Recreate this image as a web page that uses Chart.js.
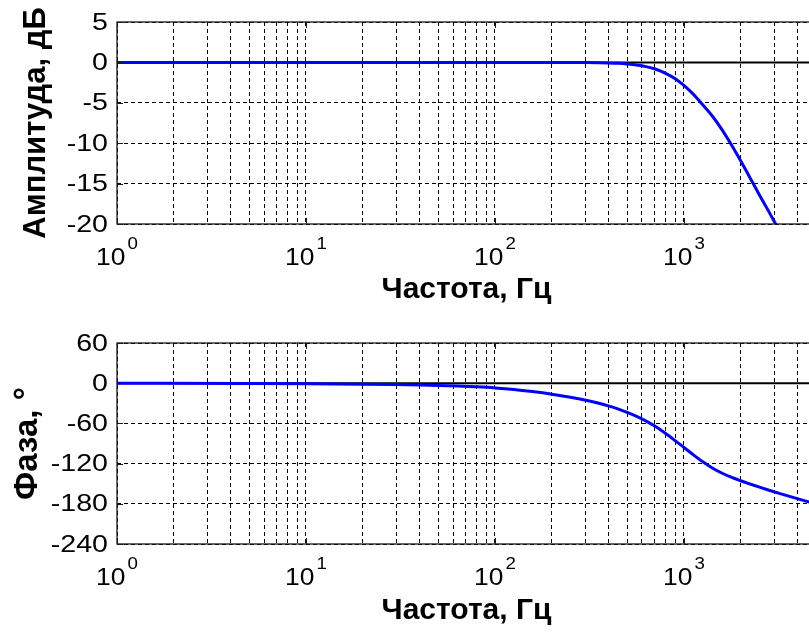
<!DOCTYPE html>
<html><head><meta charset="utf-8">
<script src="https://cdn.jsdelivr.net/npm/chart.js@4/dist/chart.umd.min.js"></script>
<style>
html,body{margin:0;padding:0;background:#fff;overflow:hidden;width:809px;height:632px;position:relative;}
#top{position:absolute;left:0;top:0;width:840px;height:320px;}
#bot{position:absolute;left:0;top:320px;width:840px;height:312px;}
</style></head><body>
<div id="top"><canvas id="c1"></canvas></div>
<div id="bot"><canvas id="c2"></canvas></div>
<script>
// ---- data ----
const ampFreq  = [1, 10, 100, 200, 300, 400, 450, 500, 560, 630, 710, 800, 900, 1000, 1120, 1250, 1410, 1580, 1780, 2000, 2240, 2510, 2820, 3160, 3550];
const ampDb    = [0, 0, 0, 0, -0.02, -0.07, -0.12, -0.2, -0.32, -0.52, -0.85, -1.35, -2.02, -2.85, -3.93, -5.17, -6.6, -8.22, -10.15, -12.2, -14.3, -16.4, -18.5, -20.6, -22.7];
const phaseFreq = [1, 5, 10, 20, 30, 40, 50, 63, 79, 100, 126, 158, 200, 224, 251, 282, 316, 355, 398, 447, 501, 562, 631, 708, 794, 891, 1000, 1122, 1259, 1413, 1585, 1778, 1995, 2239, 2512, 2818, 3162, 3548, 3981, 4467, 5012];
const phaseDeg  = [0, -0.5, -0.9, -1.5, -2.1, -2.7, -3.3, -4.2, -5.4, -7.0, -9.3, -12.5, -16.5, -18.6, -20.95, -23.6, -26.6, -30.0, -33.9, -38.4, -43.6, -49.6, -56.6, -64.7, -74.3, -84.9, -95.9, -106.9, -117.3, -126.5, -134.0, -140.3, -145.6, -150.5, -155.2, -159.7, -164.0, -168.2, -172.3, -176.3, -180.2];
const refFreq = [1, 5000];
const refVal  = [0, 0];
const ampTicks   = [-20, -15, -10, -5, 0, 5];
const phaseTicks = [-240, -180, -120, -60, 0, 60];
const decadeValues = [1, 10, 100, 1000];
const decadeBase = '10';
const decadeExps = ['0', '1', '2', '3'];
const gridMantissas = [1, 2, 3, 4, 5, 6, 7, 8, 9];
const xMin = 1, xMax = 5000;
const xTitle = 'Частота, Гц';
const ampTitle = 'Амплитуда, дБ';
const phaseTitle = 'Фаза, °';

const FONT = '"Liberation Sans", Arial, sans-serif';
const xGridValues = [];
decadeValues.forEach(d => gridMantissas.forEach(m => { const v = d * m; if (v >= xMin && v <= xMax) xGridValues.push(v); }));

const axisTextPlugin = {
  id: 'axisText',
  afterDraw(chart) {
    const {ctx, chartArea, scales: {x, y}} = chart;
    ctx.save();
    // box
    ctx.strokeStyle = '#1a1a1a';
    ctx.lineWidth = 1.3;
    ctx.strokeRect(chartArea.left, chartArea.top, chartArea.right - chartArea.left, chartArea.bottom - chartArea.top);
    // inner tick marks
    ctx.beginPath();
    decadeValues.forEach(v => {
      const px = Math.round(x.getPixelForValue(v)) + 0.5;
      ctx.moveTo(px, chartArea.bottom); ctx.lineTo(px, chartArea.bottom - 6);
      ctx.moveTo(px, chartArea.top); ctx.lineTo(px, chartArea.top + 6);
    });
    y.ticks.forEach(t => {
      const py = Math.round(y.getPixelForValue(t.value)) + 0.5;
      ctx.moveTo(chartArea.left, py); ctx.lineTo(chartArea.left + 6, py);
    });
    ctx.lineWidth = 1;
    ctx.stroke();
    ctx.fillStyle = '#000';
    // y tick labels (slightly wide face as in the picture)
    ctx.font = '24px ' + FONT;
    ctx.textAlign = 'right';
    ctx.textBaseline = 'middle';
    y.ticks.forEach(t => {
      const py = y.getPixelForValue(t.value);
      ctx.save();
      ctx.translate(chartArea.left - 9, py + 1);
      ctx.scale(1.19, 1);
      ctx.fillText(String(t.value), 0, 0);
      ctx.restore();
    });
    // x tick labels 10^n
    ctx.textBaseline = 'alphabetic';
    ctx.textAlign = 'left';
    decadeValues.forEach((v, i) => {
      const px = x.getPixelForValue(v);
      ctx.font = '24px ' + FONT;
      const wb = ctx.measureText(decadeBase).width * 1.1;
      ctx.font = '17px ' + FONT;
      const we = ctx.measureText(decadeExps[i]).width * 1.1;
      const gap = 2;
      const sx = px - (wb + gap + we) / 2;
      ctx.save();
      ctx.translate(sx, chartArea.bottom + 41);
      ctx.scale(1.1, 1);
      ctx.font = '24px ' + FONT;
      ctx.fillText(decadeBase, 0, 0);
      ctx.restore();
      ctx.save();
      ctx.translate(sx + wb + gap, chartArea.bottom + 25);
      ctx.scale(1.1, 1);
      ctx.font = '17px ' + FONT;
      ctx.fillText(decadeExps[i], 0, 0);
      ctx.restore();
    });
    ctx.restore();
  }
};

function makeChart(id, o) {
  const pts = (xs, ys) => xs.map((f, i) => ({x: f, y: ys[i]}));
  return new Chart(document.getElementById(id), {
    type: 'line',
    data: {
      datasets: [
        {data: pts(refFreq, refVal), borderColor: '#000', borderWidth: 2, pointRadius: 0, order: 2},
        {data: pts(o.freq, o.vals), borderColor: '#0000ff', borderWidth: 3, pointRadius: 0, cubicInterpolationMode: 'monotone', order: 1}
      ]
    },
    plugins: [axisTextPlugin],
    options: {
      responsive: true, maintainAspectRatio: false, animation: false, devicePixelRatio: 1,
      layout: {padding: {top: o.padTop, right: 24, left: 0, bottom: 0}},
      plugins: {legend: {display: false}, tooltip: {enabled: false}},
      scales: {
        x: {
          type: 'logarithmic', min: xMin, max: xMax,
          afterBuildTicks: s => { s.ticks = xGridValues.map(v => ({value: v})); },
          afterFit: s => { s.height = o.xAxisH; },
          ticks: {display: false},
          grid: {color: '#000', lineWidth: 1, drawTicks: false},
          border: {display: false, dash: [4, 3]},
          title: {display: true, text: xTitle, color: '#000', font: {family: FONT, size: 30, weight: 'bold'}, padding: {top: 0, bottom: o.xTitlePad}}
        },
        y: {
          min: o.ticks[0], max: o.ticks[o.ticks.length - 1],
          afterBuildTicks: s => { s.ticks = o.ticks.map(v => ({value: v})); },
          afterFit: s => { s.width = 117; },
          ticks: {display: false},
          grid: {color: '#000', lineWidth: 1, drawTicks: false},
          border: {display: false, dash: [4, 3]},
          title: {display: true, text: o.title, color: '#000', font: {family: FONT, size: o.yTitleSize, weight: 'bold'}, padding: {top: o.yTitlePad, bottom: 0}}
        }
      }
    }
  });
}

makeChart('c1', {freq: ampFreq, vals: ampDb, ticks: ampTicks, title: ampTitle, padTop: 22, xAxisH: 96, xTitlePad: 12, yTitlePad: 18, yTitleSize: 31});
makeChart('c2', {freq: phaseFreq, vals: phaseDeg, ticks: phaseTicks, title: phaseTitle, padTop: 23, xAxisH: 88, xTitlePad: 3, yTitlePad: 8, yTitleSize: 33});
</script>
</body></html>
